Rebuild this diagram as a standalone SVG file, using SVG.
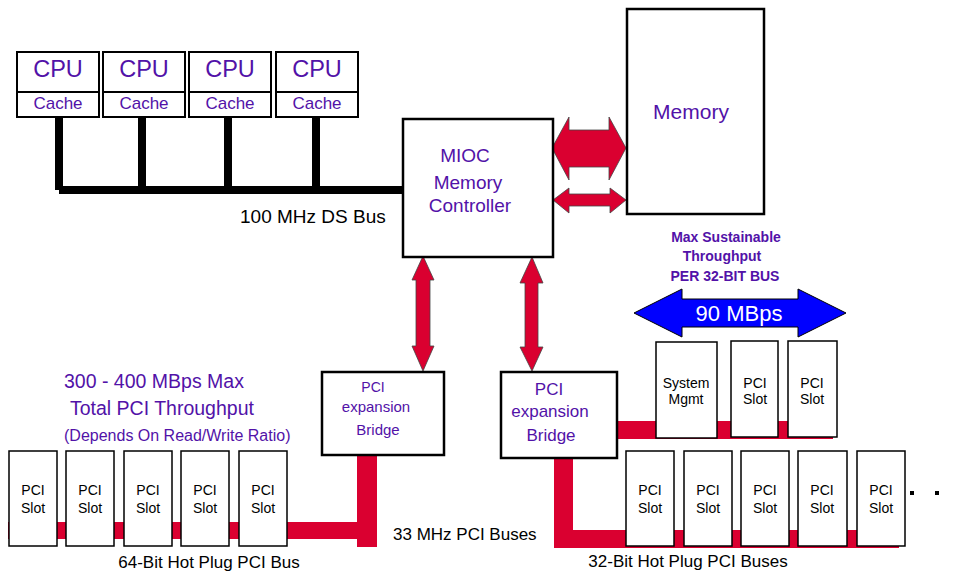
<svg xmlns="http://www.w3.org/2000/svg" width="956" height="574" viewBox="0 0 956 574">
<style>
text{font-family:"Liberation Sans",Arial,sans-serif;}
.p{fill:#5212A8;}
.k{fill:#000;}
.box{fill:#fff;stroke:#000;stroke-width:2.5;}
.cpu{fill:#fff;stroke:#000;stroke-width:2;}
.slot{fill:#fff;stroke:#000;stroke-width:1.5;}
.red{fill:#DA0030;}
.arr{fill:#DA0030;stroke:#444;stroke-width:0.8;}
.m{text-anchor:middle;}
.st{font-size:14px;text-anchor:middle;fill:#000;}
</style>
<rect width="956" height="574" fill="#fff"/>

<g id="connectors">
<path d="M59,117 V190 M142,117 V190 M228,117 V190 M316,117 V190 M59,190 H404" fill="none" stroke="#000" stroke-width="8" stroke-linejoin="round" stroke-linecap="butt"/>
<polygon class="arr" points="552,148 569,117 569,130 609,130 609,117 626,148 609,180 609,167 569,167 569,180"/>
<polygon class="arr" points="553,200 569,188 569,194 610,194 610,188 626,200 610,213 610,206 569,206 569,213"/>
<polygon class="arr" points="423,256 434,280 430,280 430,346 434,346 423,371 412,346 416,346 416,280 412,280"/>
<polygon class="arr" points="532,257 543,283 538,283 538,347 543,347 532,371 520,347 525,347 525,283 520,283"/>
<polygon fill="#0000FF" stroke="#000" stroke-width="1" points="634,313 682,289 682,299 798,299 798,289 846,313 798,337 798,327 682,327 682,337"/>
<rect class="red" x="8" y="522" width="369" height="17"/>
<rect class="red" x="357" y="455" width="20" height="92"/>
<rect class="red" x="554" y="458" width="19" height="90"/>
<rect class="red" x="554" y="530" width="345" height="18"/>
<rect class="red" x="617" y="421" width="216" height="18"/>
</g>

<g id="cpu1"><rect class="cpu" x="17" y="52" width="82" height="40"/><rect class="cpu" x="17" y="92" width="82" height="25"/><text class="p m" x="58" y="77" font-size="23.5">CPU</text><text class="p m" x="58" y="109" font-size="17">Cache</text></g>
<g id="cpu2"><rect class="cpu" x="103" y="52" width="82" height="40"/><rect class="cpu" x="103" y="92" width="82" height="25"/><text class="p m" x="144" y="77" font-size="23.5">CPU</text><text class="p m" x="144" y="109" font-size="17">Cache</text></g>
<g id="cpu3"><rect class="cpu" x="189" y="52" width="82" height="40"/><rect class="cpu" x="189" y="92" width="82" height="25"/><text class="p m" x="230" y="77" font-size="23.5">CPU</text><text class="p m" x="230" y="109" font-size="17">Cache</text></g>
<g id="cpu4"><rect class="cpu" x="276" y="52" width="82" height="40"/><rect class="cpu" x="276" y="92" width="82" height="25"/><text class="p m" x="317" y="77" font-size="23.5">CPU</text><text class="p m" x="317" y="109" font-size="17">Cache</text></g>

<g id="ds-bus-label"><text class="k" x="240" y="223" font-size="19">100 MHz DS Bus</text></g>

<g id="mioc"><rect class="box" x="403" y="119" width="150" height="138"/>
<text class="p m" x="465" y="162" font-size="19">MIOC</text>
<text class="p m" x="468" y="189" font-size="19">Memory</text>
<text class="p m" x="470" y="212" font-size="19">Controller</text></g>

<g id="memory"><rect class="box" x="627" y="9" width="137" height="205"/>
<text class="p m" x="691" y="119" font-size="21">Memory</text></g>

<g id="throughput-label">
<text class="p m" x="726" y="242" font-size="14" font-weight="bold">Max Sustainable</text>
<text class="p m" x="722" y="261" font-size="14" font-weight="bold">Throughput</text>
<text class="p m" x="725" y="281" font-size="14" font-weight="bold">PER 32-BIT BUS</text>
<text class="m" x="739" y="321" font-size="22" fill="#fff">90 MBps</text></g>

<g id="total-label">
<text class="p" x="64" y="388" font-size="19.5">300 - 400 MBps Max</text>
<text class="p" x="70" y="415" font-size="19.5">Total PCI Throughput</text>
<text class="p" x="64" y="441" font-size="16">(Depends On Read/Write Ratio)</text></g>

<g id="bridge-left"><rect class="box" x="322" y="372" width="122" height="83"/>
<text class="p m" x="373" y="392" font-size="14">PCI</text>
<text class="p m" x="376" y="412" font-size="15">expansion</text>
<text class="p m" x="378" y="435" font-size="15">Bridge</text></g>

<g id="bridge-right"><rect class="box" x="501" y="372" width="116" height="86"/>
<text class="p m" x="549" y="395" font-size="17">PCI</text>
<text class="p m" x="550" y="417" font-size="17">expansion</text>
<text class="p m" x="551" y="441" font-size="17">Bridge</text></g>

<g id="slots-64">
<g id="s64-1"><rect class="slot" x="9" y="451" width="48" height="95"/><text class="st" x="33" y="495">PCI</text><text class="st" x="33" y="513">Slot</text></g>
<g id="s64-2"><rect class="slot" x="66" y="451" width="48" height="95"/><text class="st" x="90" y="495">PCI</text><text class="st" x="90" y="513">Slot</text></g>
<g id="s64-3"><rect class="slot" x="124" y="451" width="48" height="95"/><text class="st" x="148" y="495">PCI</text><text class="st" x="148" y="513">Slot</text></g>
<g id="s64-4"><rect class="slot" x="181" y="451" width="48" height="95"/><text class="st" x="205" y="495">PCI</text><text class="st" x="205" y="513">Slot</text></g>
<g id="s64-5"><rect class="slot" x="239" y="451" width="48" height="95"/><text class="st" x="263" y="495">PCI</text><text class="st" x="263" y="513">Slot</text></g>
</g>

<g id="slots-top">
<g id="sysmgmt"><rect class="slot" x="656" y="342" width="61" height="96"/><text class="st" x="686" y="388">System</text><text class="st" x="686" y="404">Mgmt</text></g>
<g id="st-1"><rect class="slot" x="731" y="341" width="47" height="96"/><text class="st" x="755" y="388">PCI</text><text class="st" x="755" y="404">Slot</text></g>
<g id="st-2"><rect class="slot" x="788" y="341" width="49" height="96"/><text class="st" x="812" y="388">PCI</text><text class="st" x="812" y="404">Slot</text></g>
</g>

<g id="slots-32">
<g id="s32-1"><rect class="slot" x="626" y="451" width="48" height="95"/><text class="st" x="650" y="495">PCI</text><text class="st" x="650" y="513">Slot</text></g>
<g id="s32-2"><rect class="slot" x="684" y="451" width="48" height="95"/><text class="st" x="708" y="495">PCI</text><text class="st" x="708" y="513">Slot</text></g>
<g id="s32-3"><rect class="slot" x="741" y="451" width="48" height="95"/><text class="st" x="765" y="495">PCI</text><text class="st" x="765" y="513">Slot</text></g>
<g id="s32-4"><rect class="slot" x="798" y="451" width="49" height="95"/><text class="st" x="822" y="495">PCI</text><text class="st" x="822" y="513">Slot</text></g>
<g id="s32-5"><rect class="slot" x="857" y="451" width="48" height="95"/><text class="st" x="881" y="495">PCI</text><text class="st" x="881" y="513">Slot</text></g>
<rect x="910" y="491" width="4" height="4" fill="#000"/>
<rect x="935" y="491" width="4" height="4" fill="#000"/>
</g>

<g id="bus-labels">
<text class="k m" x="209" y="568" font-size="17">64-Bit Hot Plug PCI Bus</text>
<text class="k" x="393" y="540" font-size="17">33 MHz PCI Buses</text>
<text class="k m" x="688" y="567" font-size="17">32-Bit Hot Plug PCI Buses</text>
</g>
</svg>
